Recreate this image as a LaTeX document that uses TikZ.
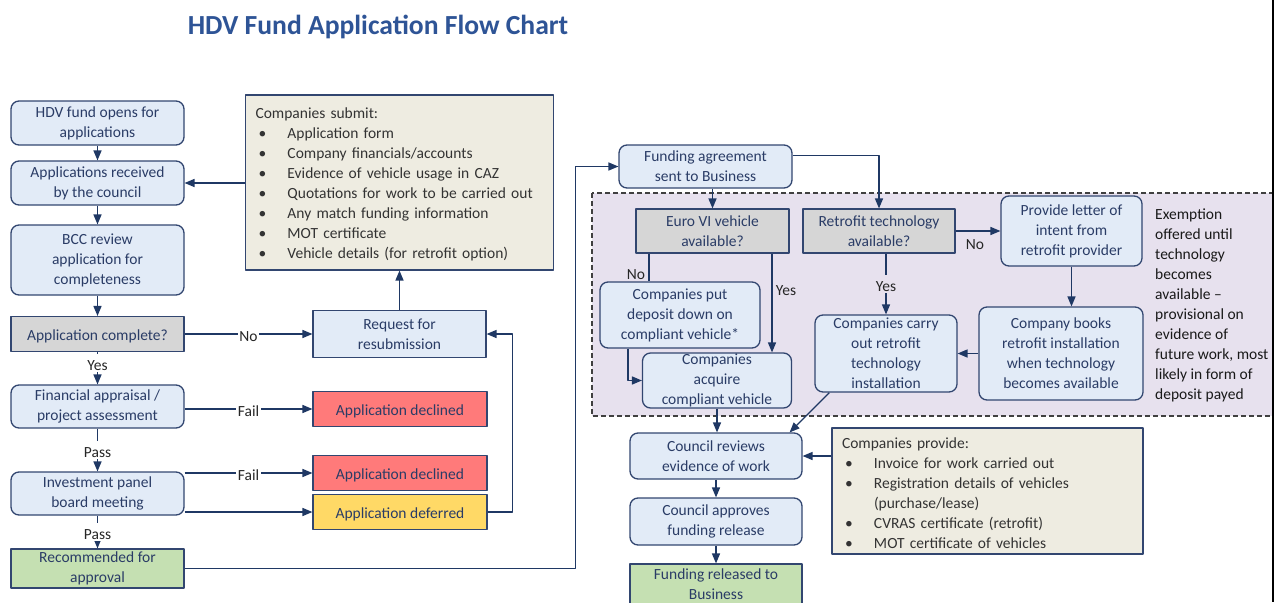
\documentclass[tikz,border=0pt]{standalone}
\usepackage{fontspec}
\setmainfont{Carlito}
\usepackage{tikz}
\usetikzlibrary{arrows,positioning,shapes.geometric}

\definecolor{lineblue}{RGB}{31,56,100}
\definecolor{edgeblue}{RGB}{50,70,112}
\definecolor{boxblue}{RGB}{226,235,247}
\definecolor{textblue}{RGB}{42,60,102}
\definecolor{titleblue}{RGB}{46,84,150}
\definecolor{askgray}{RGB}{214,214,214}
\definecolor{declred}{RGB}{255,122,122}
\definecolor{deferyellow}{RGB}{255,217,102}
\definecolor{okgreen}{RGB}{197,224,178}
\definecolor{notebeige}{RGB}{238,236,225}
\definecolor{zonepurple}{RGB}{231,225,238}

\newcommand{\bul}{\hspace*{3pt}\makebox[29pt][l]{\textbullet}}

\begin{document}
\begin{tikzpicture}[x=1pt,y=-1pt,line join=round,>=triangle 45,
  every node/.style={font=\fontsize{15.5}{20}\selectfont,execute at begin node={\rule{0pt}{15pt}}},
  flow/.style={draw=edgeblue,line width=1.3pt,fill=boxblue,text=textblue,align=center,inner sep=0pt,rounded corners=8pt},
  flat/.style={flow,sharp corners},
  ask/.style={flat,fill=askgray},
  decl/.style={flat,fill=declred},
  notebox/.style={flat,fill=notebeige,text=black!80,align=left},
  zone/.style={fill=zonepurple,draw=black!75,line width=1.3pt,dash pattern=on 5pt off 3pt},
  conn/.style={draw=lineblue,line width=1.3pt},
  arr/.style={conn,->},
  lbl/.style={fill=white,inner sep=1.5pt,text=black!85}]
\useasboundingbox (0,0) rectangle (1284,602);

\node[font=\fontsize{27.6}{32}\selectfont\bfseries,text=titleblue] (title) at (378,27) {HDV Fund Application Flow Chart};

% left column
\node[flow,minimum width=173,minimum height=44] (open) at (97.5,123) {HDV fund opens for\\applications};
\node[flow,minimum width=173,minimum height=44] (recv) at (97.5,183) {Applications received\\by the council};
\node[flow,minimum width=173,minimum height=70] (review) at (97.5,260) {BCC review\\application for\\completeness};
\node[ask,minimum width=173,minimum height=35] (complete) at (97.5,334) {Application complete?};
\node[flow,minimum width=173,minimum height=43] (fin) at (97.5,406.5) {Financial appraisal /\\project assessment};
\node[flow,minimum width=173,minimum height=43] (panel) at (97.5,493.5) {Investment panel\\board meeting};
\node[flat,fill=okgreen,minimum width=173,minimum height=39] (recom) at (97.5,568.5) {Recommended for\\approval};

% middle column
\node[notebox,minimum width=308,minimum height=175,text width=288] (submit) at (399.5,182.5) {Companies submit:\\
  \bul Application form\\
  \bul Company financials/accounts\\
  \bul Evidence of vehicle usage in CAZ\\
  \bul Quotations for work to be carried out\\
  \bul Any match funding information\\
  \bul MOT certificate\\
  \bul Vehicle details (for retrofit option)};
\node[flat,minimum width=173,minimum height=47] (resub) at (399.5,334) {Request for\\resubmission};
\node[decl,minimum width=174,minimum height=35] (decl1) at (400,409) {Application declined};
\node[decl,minimum width=174,minimum height=35] (decl2) at (400,473) {Application declined};
\node[flat,fill=deferyellow,minimum width=174,minimum height=35] (defer) at (400,512) {Application deferred};

\draw[arr] (open) -- (recv);
\draw[arr] (recv) -- (review);
\draw[arr] (review) -- (complete);
\draw[arr] (complete) -- node[lbl,pos=0.35]{Yes} (fin);
\draw[arr] (fin) -- node[lbl]{Pass} (panel);
\draw[arr] (panel) -- node[lbl]{Pass} (recom);
\draw[arr] (complete) -- node[lbl]{No} (resub);
\draw[arr] (submit.west |- recv) -- (recv);
\draw[arr] (resub) -- (submit);
\draw[arr] (fin.east |- decl1) -- node[lbl]{Fail} (decl1);
\draw[arr] (panel.east |- decl2) -- node[lbl]{Fail} (decl2);
\draw[arr] (panel.east |- defer) -- (defer);
\draw[arr] (defer.east) -- ++(25,0) |- (resub.east);

% right part
\draw[zone] (592,193) rectangle (1290,416);

\node[flow,minimum width=173,minimum height=43] (funding) at (705.5,166.5) {Funding agreement\\sent to Business};
\node[ask,minimum width=153,minimum height=44] (euro) at (712.5,231) {Euro VI vehicle\\available?};
\node[ask,minimum width=152,minimum height=44] (retro) at (879,231) {Retrofit technology\\available?};
\node[flow,minimum width=160,minimum height=66] (deposit) at (680,315) {Companies put\\deposit down on\\compliant vehicle*};
\node[flow,minimum width=149,minimum height=55] (acquire) at (717,380.5) {Companies\\acquire\\compliant vehicle};
\node[flow,minimum width=142,minimum height=77] (carry) at (886,353.5) {Companies carry\\out retrofit\\technology\\installation};
\node[flow,minimum width=141,minimum height=70] (letter) at (1071.5,231) {Provide letter of\\intent from\\retrofit provider};
\node[flow,minimum width=164,minimum height=93] (books) at (1061,353.5) {Company books\\retrofit installation\\when technology\\becomes available};
\node[anchor=west,align=left,inner sep=0pt,text=black!90] (exempt) at (1155,305) {Exemption\\offered until\\technology\\becomes\\available --\\provisional on\\evidence of\\future work, most\\likely in form of\\deposit payed};
\node[flow,minimum width=172,minimum height=46] (council) at (716,456) {Council reviews\\evidence of work};
\node[flow,minimum width=172,minimum height=47] (approve) at (716,521.5) {Council approves\\funding release};
\node[flat,fill=okgreen,minimum width=172,minimum height=41] (released) at (716,584.5) {Funding released to\\Business};
\node[notebox,minimum width=311,minimum height=126,text width=291] (provide) at (987.5,491) {Companies provide:\\
  \bul Invoice for work carried out\\
  \bul Registration details of vehicles\\
  \hspace*{32pt}(purchase/lease)\\
  \bul CVRAS certificate (retrofit)\\
  \bul MOT certificate of vehicles};

\coordinate (nox) at (649,0);
\coordinate (yesx) at (772,0);

\draw[arr] (recom.east) -- ++(391,0) |- (funding.west);
\draw[arr] (funding.south -| euro.north) -- (euro.north);
\draw[arr] ([yshift=11pt]funding.east) -| (retro.north);
\draw[conn] (nox |- euro.south) -- node[left,pos=0.65,text=black!85]{No} (nox |- deposit.north);
\draw[arr] (yesx |- euro.south) -- node[right,pos=0.35,text=black!85]{Yes} (yesx |- acquire.north);
\draw[arr] ([xshift=-52pt]deposit.south) |- (acquire.west);
\draw[arr] (retro.south -| carry.north) -- node[lbl,fill=zonepurple]{Yes} (carry.north);
\draw[arr] (retro.east) -- node[below,pos=0.43,text=black!85]{No} (letter.west);
\draw[arr] (letter.south) -- (letter.south |- books.north);
\draw[arr] (books.west) -- (carry.east);
\draw[arr] (acquire.south) -- (acquire.south |- council.north);
\draw[arr] ([xshift=15pt]carry.south west) -- ([xshift=-13pt]council.north east);
\draw[arr] (provide.west |- council.east) -- (council.east);
\draw[arr] (council) -- (approve);
\draw[arr] (approve) -- (released);

% cut edge
\fill[white] (1273,0) rectangle (1284,602);
\draw[line width=1.8pt] (1273,0) -- (1273,602);
\end{tikzpicture}
\end{document}
